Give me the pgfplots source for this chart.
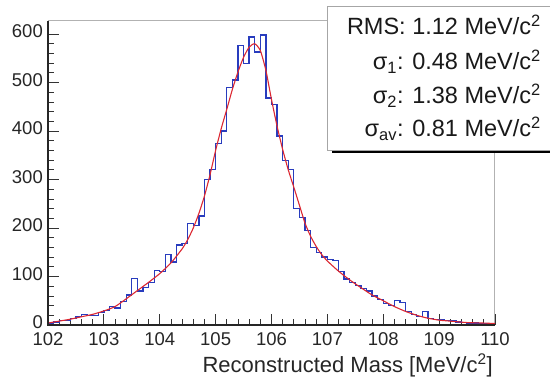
\documentclass[border=0pt]{standalone}
\usepackage{fontspec}
\setmainfont{Liberation Sans}
\usepackage{pgfplots}
\pgfplotsset{compat=1.18}
\definecolor{histblue}{RGB}{40,60,190}
\definecolor{fitred}{RGB}{220,40,50}
\begin{document}
\begin{tikzpicture}
\path[use as bounding box] (0,0) rectangle (550bp,378bp);
\begin{axis}[
  at={(48bp,53bp)}, anchor=south west,
  scale only axis, width=447bp, height=304bp,
  xmin=102, xmax=110, ymin=0, ymax=627,
  xtick={102,103,...,110}, ytick={0,100,...,600},
  minor x tick num=4, minor y tick num=4,
  xtick pos=bottom, ytick pos=left, tick align=inside,
  major tick length=11bp, minor tick length=5.5bp,
  tick style={black!80, line width=0.8bp},
  axis line style={draw=gray!60, line width=1bp},
  /pgf/number format/assume math mode=true,
  /pgf/number format/1000 sep={},
  ticklabel style={font=\fontsize{18.5bp}{20bp}\selectfont, text=black!85},
  yticklabel style={inner sep=0pt, xshift=-5bp, yshift=2.5bp},
  xticklabel style={inner sep=0pt, yshift=-7.5bp},
  xlabel={Reconstructed Mass [MeV/c\textsuperscript{2}]},
  xlabel style={at={(rel axis cs:1,0)}, anchor=north east, inner sep=0pt,
    yshift=-29bp, xshift=-2bp, font=\fontsize{22bp}{24bp}\selectfont, text=black!85},
  clip=false,
]
\addplot[const plot, histblue, line width=1.3bp] coordinates {
(102.0,3) (102.1,6) (102.2,10) (102.3,9) (102.4,14) (102.5,18) (102.6,22) (102.7,20)
(102.8,19) (102.9,26) (103.0,30) (103.1,38) (103.2,35) (103.3,48) (103.4,62) (103.5,96)
(103.6,70) (103.7,78) (103.8,88) (103.9,112) (104.0,110) (104.1,145) (104.2,130) (104.3,165)
(104.4,168) (104.5,210) (104.6,205) (104.7,225) (104.8,300) (104.9,320) (105.0,375) (105.1,400)
(105.2,490) (105.3,505) (105.4,577) (105.5,540) (105.6,594) (105.7,563) (105.8,598) (105.9,468)
(106.0,455) (106.1,390) (106.2,340) (106.3,320) (106.4,240) (106.5,222) (106.6,195) (106.7,160)
(106.8,150) (106.9,140) (107.0,135) (107.1,133) (107.2,110) (107.3,95) (107.4,87) (107.5,82)
(107.6,75) (107.7,70) (107.8,60) (107.9,52) (108.0,45) (108.1,40) (108.2,50) (108.3,47)
(108.4,28) (108.5,22) (108.6,18) (108.7,28) (108.8,14) (108.9,12) (109.0,11) (109.1,10)
(109.2,9) (109.3,6) (109.4,5) (109.5,4) (109.6,4) (109.7,3) (109.8,3) (109.9,3) (110.0,3)
};
\addplot[smooth, tension=0.4, fitred, line width=1.1bp] coordinates {
(102.0,4) (102.2,8) (102.4,12) (102.6,17) (102.8,22) (103.0,29) (103.2,38) (103.4,54)
(103.6,71) (103.8,88) (104.0,106) (104.2,128) (104.4,157) (104.5,176) (104.6,200) (104.7,230)
(104.8,266) (104.9,310) (105.0,360) (105.1,405) (105.2,445) (105.3,486) (105.4,522) (105.5,552)
(105.6,573) (105.7,580) (105.8,566) (105.9,525) (106.0,465) (106.1,410) (106.2,362) (106.3,320)
(106.4,284) (106.5,247) (106.6,210) (106.7,183) (106.8,162) (106.9,145) (107.0,132) (107.2,111)
(107.4,93) (107.6,77) (107.8,62) (108.0,50) (108.2,38) (108.4,28) (108.6,20) (108.8,14)
(109.0,10) (109.2,8) (109.5,5) (109.8,4) (110.0,3)
};
\draw[black!85, line width=1.2bp] (rel axis cs:0,1) -- (rel axis cs:0,0) -- (rel axis cs:1,0);
\end{axis}
% statistics box
\fill[black] (332bp,224.5bp) rectangle (560bp,228bp);
\draw[gray!70, fill=white, line width=0.8bp] (327bp,228bp) rectangle (560bp,372bp);
\begin{scope}[every node/.style={anchor=base east, inner sep=0pt,
    font=\fontsize{23.5bp}{26bp}\selectfont, text=black!90}]
\node at (541bp,343bp) {RMS: 1.12 MeV/c\textsuperscript{2}};
\node at (541bp,308bp) {σ\textsubscript{1}: 0.48 MeV/c\textsuperscript{2}};
\node at (541bp,274bp) {σ\textsubscript{2}: 1.38 MeV/c\textsuperscript{2}};
\node at (541bp,241bp) {σ\textsubscript{av}: 0.81 MeV/c\textsuperscript{2}};
\end{scope}
\end{tikzpicture}
\end{document}
